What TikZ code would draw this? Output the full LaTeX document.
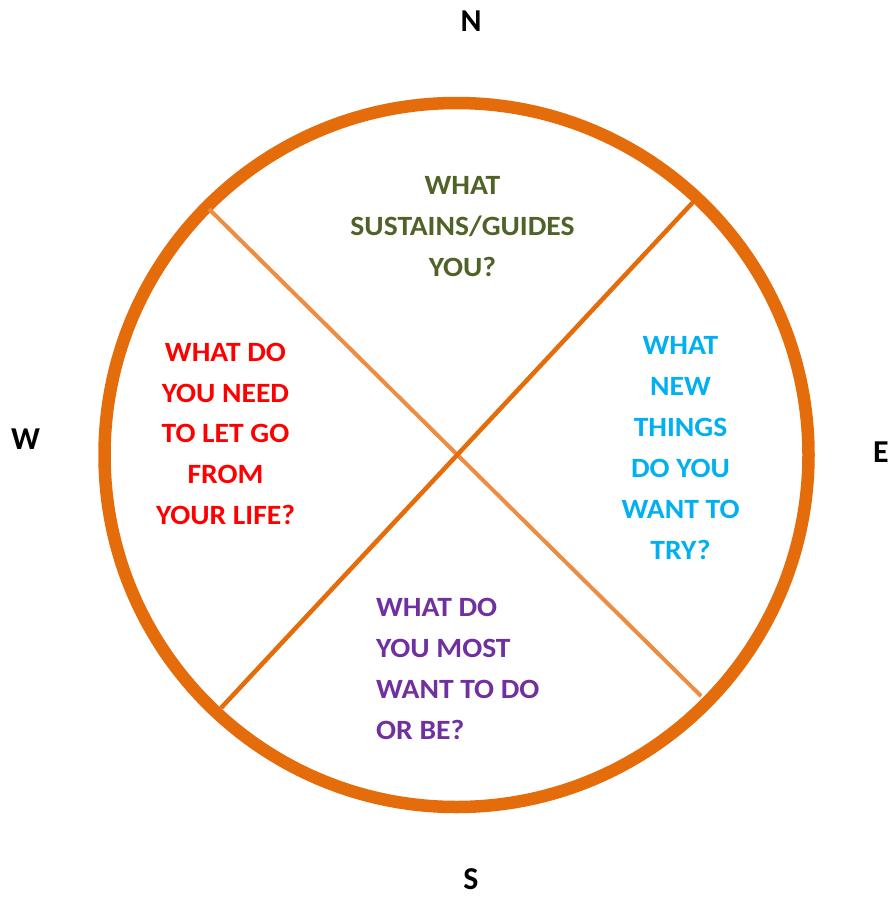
\documentclass[tikz,border=0pt]{standalone}
\usepackage{fontspec}
\setmainfont{Carlito}
\newfontfamily\qfont[FakeStretch=1.06]{Carlito}
\definecolor{ringorange}{HTML}{E46C0A}
\definecolor{lightorange}{HTML}{EC8D42}
\definecolor{qgreen}{HTML}{4F6228}
\definecolor{qred}{HTML}{FF0000}
\definecolor{qcyan}{HTML}{00B0F0}
\definecolor{qpurple}{HTML}{7030A0}
\begin{document}
\begin{tikzpicture}[x=1bp,y=-1bp,
  qtext/.style={inner sep=0pt,font=\qfont\bfseries\fontsize{28}{41}\selectfont},
  dirtext/.style={inner sep=0pt,anchor=north,font=\bfseries\fontsize{32}{38}\selectfont,text=black}]
\useasboundingbox[fill=white] (0,0) rectangle (888,900);
\coordinate (c) at (456.5,455);
\draw[ringorange,line width=12.5bp] (c) circle[radius=352];
\coordinate (nw) at (209,209);
\coordinate (se) at (701,696);
\coordinate (ne) at (696,199);
\coordinate (sw) at (221,708);
\draw[lightorange,line width=4bp] (nw) -- (se);
\draw[ringorange,line width=4.5bp] (ne) -- (sw);
\begin{scope}
\clip (300,150) rectangle (620,277);
\node[qtext,text=qgreen,align=center,anchor=north] (north) at (462.5,176.7) {WHAT\\SUSTAINS/GUIDES\\YOU?};
\end{scope}
\node[qtext,text=qred,align=center,anchor=north] (west) at (225.5,342.7) {WHAT DO\\YOU NEED\\TO LET GO\\FROM\\YOUR LIFE?};
\node[qtext,text=qcyan,align=center,anchor=north] (east) at (680.5,336.7) {WHAT\\NEW\\THINGS\\DO YOU\\WANT TO\\TRY?};
\node[qtext,text=qpurple,align=left,anchor=north west] (south) at (376,598.3) {WHAT DO\\YOU MOST\\WANT TO DO\\OR BE?};
\node[dirtext] (N) at (471,10.7) {N};
\node[dirtext] (W) at (25.5,428.3) {W};
\node[dirtext] (E) at (881,441.7) {E};
\node[dirtext] (S) at (471,868) {S};
\end{tikzpicture}
\end{document}
